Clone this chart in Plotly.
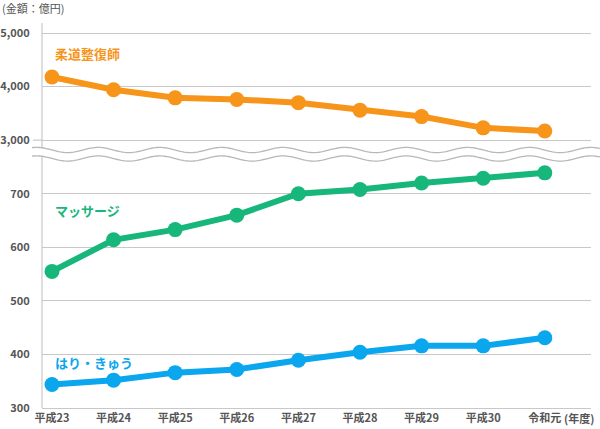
import numpy as np
import plotly.graph_objects as go

# ---- data ----
years = ["平成23", "平成24", "平成25", "平成26", "平成27", "平成28", "平成29", "平成30", "令和元"]
judo = [4180, 3940, 3790, 3760, 3700, 3560, 3440, 3230, 3170]      # 柔道整復師 (億円)
massage = [555, 614, 633, 660, 700, 708, 720, 729, 739]            # マッサージ
hari = [344, 352, 366, 372, 389, 404, 416, 416, 431]               # はり・きゅう
y_tick_vals = [300, 400, 500, 600, 700, 800, 900, 1000]
y_tick_text = ["300", "400", "500", "600", "700", "3,000", "4,000", "5,000"]

ORANGE = "#F7941A"
GREEN = "#17B77B"
BLUE = "#0AA6EE"
GRID = "#c8c8c8"
TXT = "#555555"
FONT = "Noto Sans CJK JP"

W, H = 600, 429
ML, MR, MT, MB = 42, 9, 23, 21


def upper_to_axis(v):
    # upper (broken) section: 3,000 -> 800, 1,000 per 100 units
    return 800 + (v - 3000) / 10.0


x = list(range(len(years)))
judo_t = [upper_to_axis(v) for v in judo]

fig = go.Figure()
for ys, raw, col in [(judo_t, judo, ORANGE), (massage, massage, GREEN), (hari, hari, BLUE)]:
    fig.add_trace(go.Scatter(
        x=x, y=ys, customdata=raw, mode="lines+markers",
        line=dict(color=col, width=6), marker=dict(color=col, size=15),
        hovertemplate="%{customdata}<extra></extra>", showlegend=False, cliponaxis=False))

# pixel -> paper helpers
pw = W - ML - MR
ph = H - MT - MB


def px2paper_x(px):
    return (px - ML) / pw


def px2paper_y(py):
    return (H - MB - py) / ph


shapes = []
# y-axis line
shapes.append(dict(type="line", xref="paper", yref="paper", x0=0, x1=0, y0=0, y1=1,
                   line=dict(color=GRID, width=1.2), layer="below"))
# short extension of 3,000 gridline
shapes.append(dict(type="line", xref="paper", yref="y", x0=px2paper_x(33), x1=0, y0=800, y1=800,
                   line=dict(color=GRID, width=1.2), layer="below"))

# wavy break
xs = np.linspace(32, 600, 300)
period = 61.6
amp = 2.6
w1 = 150 + amp * np.sin(2 * np.pi * (xs - 52) / period)
w2 = 158.5 + amp * np.sin(2 * np.pi * (xs - 52) / period)


def path_from(xp, yp, close=False):
    pts = [f"{px2paper_x(a):.5f},{px2paper_y(b):.5f}" for a, b in zip(xp, yp)]
    p = "M" + " L".join(pts)
    if close:
        p += " Z"
    return p


band_x = np.concatenate([xs, xs[::-1]])
band_y = np.concatenate([w1, w2[::-1]])
shapes.append(dict(type="path", xref="paper", yref="paper", path=path_from(band_x, band_y, True),
                   fillcolor="white", line=dict(width=0), layer="below"))
for wy in (w1, w2):
    shapes.append(dict(type="path", xref="paper", yref="paper", path=path_from(xs, wy),
                       line=dict(color="#b8b8b8", width=1.3), layer="below"))

annotations = [
    dict(text="(金額：億円)", xref="paper", yref="paper", x=px2paper_x(0), y=px2paper_y(8),
         xanchor="left", yanchor="middle", showarrow=False, font=dict(size=11, color=TXT, family=FONT)),
    dict(text="柔道整復師", xref="x", yref="y", x=0.02, y=961, xanchor="left", yanchor="middle",
         showarrow=False, font=dict(size=13, color=ORANGE, family=FONT, weight="bold")),
    dict(text="マッサージ", xref="x", yref="y", x=0.02, y=668, xanchor="left", yanchor="middle",
         showarrow=False, font=dict(size=13, color=GREEN, family=FONT, weight="bold")),
    dict(text="はり・きゅう", xref="x", yref="y", x=0.02, y=384.5, xanchor="left", yanchor="middle",
         showarrow=False, font=dict(size=13, color=BLUE, family=FONT, weight="bold")),
    dict(text="(年度)", xref="paper", yref="paper", x=px2paper_x(562), y=px2paper_y(418),
         xanchor="left", yanchor="middle", showarrow=False,
         font=dict(size=11, color=TXT, family=FONT, weight="bold")),
]

fig.update_layout(
    width=W, height=H, autosize=False,
    margin=dict(l=ML, r=MR, t=MT, b=MB, pad=0, autoexpand=False),
    paper_bgcolor="white", plot_bgcolor="white",
    shapes=shapes, annotations=annotations,
    xaxis=dict(range=[-0.162, 8.75], tickvals=x, ticktext=years, showgrid=False, zeroline=False,
               showline=True, linecolor=GRID, linewidth=1.2, ticks="", fixedrange=True,
               automargin=False,
               tickfont=dict(size=11, color=TXT, family=FONT, weight="bold")),
    yaxis=dict(range=[300, 1018.7], tickvals=y_tick_vals, ticktext=y_tick_text, showgrid=True,
               gridcolor=GRID, gridwidth=1.2, zeroline=False, showline=False, automargin=False,
               ticks="outside", ticklen=9, tickcolor="rgba(0,0,0,0)", fixedrange=True,
               tickfont=dict(size=11, color=TXT, family=FONT, weight="bold")),
)

fig.write_html("out.html", config={"displayModeBar": False},
               post_script="document.body.style.margin='0';document.body.style.overflow='hidden';")
